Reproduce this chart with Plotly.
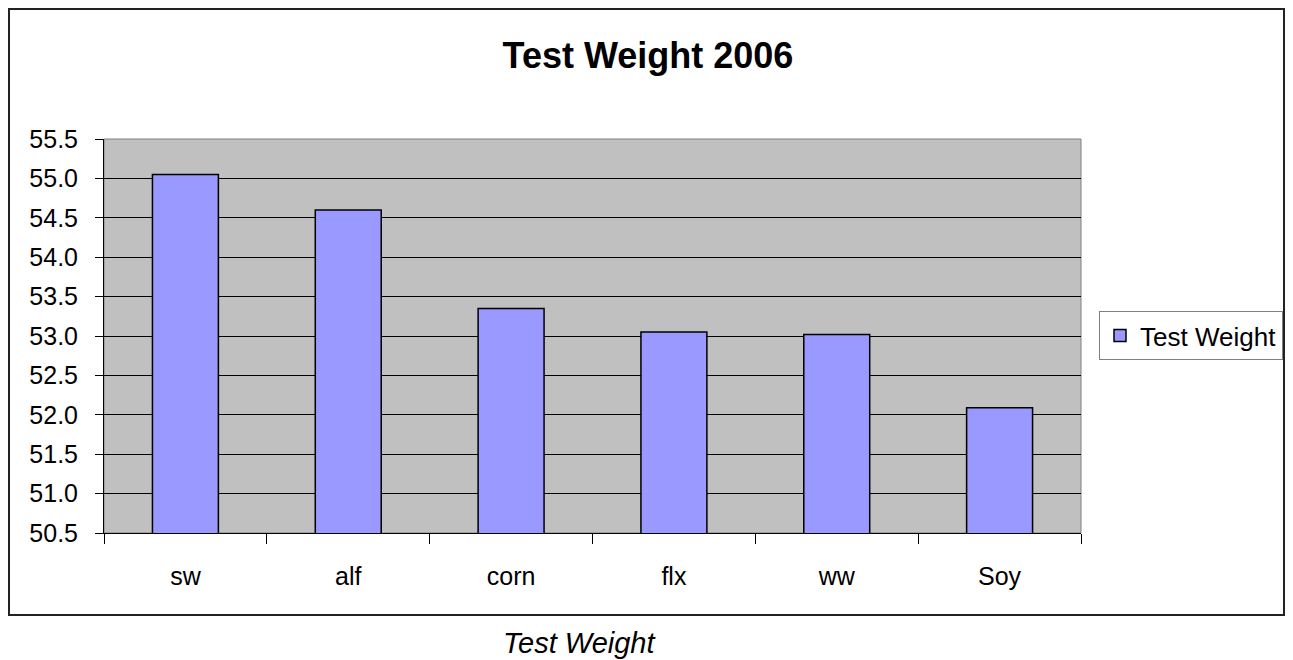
import plotly.graph_objects as go

# crops and their test weights
crops = ['sw', 'alf', 'corn', 'flx', 'ww', 'Soy']
test_weight = [55.05, 54.60, 53.35, 53.05, 53.02, 52.09]
y_ticks = [50.5, 51.0, 51.5, 52.0, 52.5, 53.0, 53.5, 54.0, 54.5, 55.0, 55.5]

FONT = 'Arial, Liberation Sans, sans-serif'

# page body has an 8px margin, so work in figure pixels = screen pixels - 8
OFF = 8
L, R, T, B = 104 - OFF, 1081 - OFF, 139 - OFF, 533 - OFF
W, H = 1277, 652


def px_x(p):
    return (p - OFF - L) / (R - L)


def px_y(p):
    return (B - (p - OFF)) / (B - T)


def main():
    fig = go.Figure()
    fig.add_trace(go.Bar(x=crops, y=test_weight, name='Test Weight',
                         marker=dict(color='#9999FF', line=dict(color='black', width=1.5))))

    fig.update_layout(
        width=W, height=H,
        margin=dict(l=L, r=W - R, t=T, b=H - B, autoexpand=False),
        paper_bgcolor='white', plot_bgcolor='#C0C0C0',
        font=dict(family=FONT, color='black', size=25),
        bargap=0.595,
        showlegend=True,
        title=dict(text='<b>Test Weight 2006</b>', font=dict(size=36, family=FONT),
                   xref='container', x=(648 - OFF) / W, xanchor='center',
                   yref='container', y=1 - (55 - OFF) / H, yanchor='middle'),
        legend=dict(x=px_x(1099), xanchor='left', y=px_y(335.5), yanchor='middle',
                    bgcolor='white', bordercolor='#808080', borderwidth=1,
                    font=dict(size=26, family=FONT), itemwidth=30),
    )
    fig.update_xaxes(showline=True, linecolor='black', linewidth=1, ticks='outside',
                     tickson='boundaries', ticklen=10, tickcolor='black',
                     showgrid=False, ticklabelstandoff=21, tickfont=dict(size=25))
    fig.update_yaxes(range=[50.5, 55.5], tickvals=y_ticks, tickformat='.1f',
                     showline=True, linecolor='black', linewidth=1, ticks='outside',
                     ticklen=8, tickcolor='black', showgrid=True, gridcolor='black',
                     gridwidth=1, zeroline=False, ticklabelstandoff=12,
                     tickfont=dict(size=25))

    # gray frame of the plot area
    fig.add_shape(type='rect', xref='paper', yref='paper', x0=0, x1=1, y0=0, y1=1,
                  line=dict(color='#808080', width=1), layer='below')
    # outer chart border
    fig.add_shape(type='rect', xref='paper', yref='paper',
                  x0=px_x(9), x1=px_x(1284), y0=px_y(615), y1=px_y(9),
                  line=dict(color='#222222', width=2))
    # caption under the chart
    fig.add_annotation(text='<i>Test Weight</i>', xref='paper', yref='paper',
                       x=px_x(579), y=px_y(643), showarrow=False,
                       font=dict(size=29, family=FONT), xanchor='center', yanchor='middle')

    fig.write_html('out.html')


if __name__ == '__main__':
    main()
